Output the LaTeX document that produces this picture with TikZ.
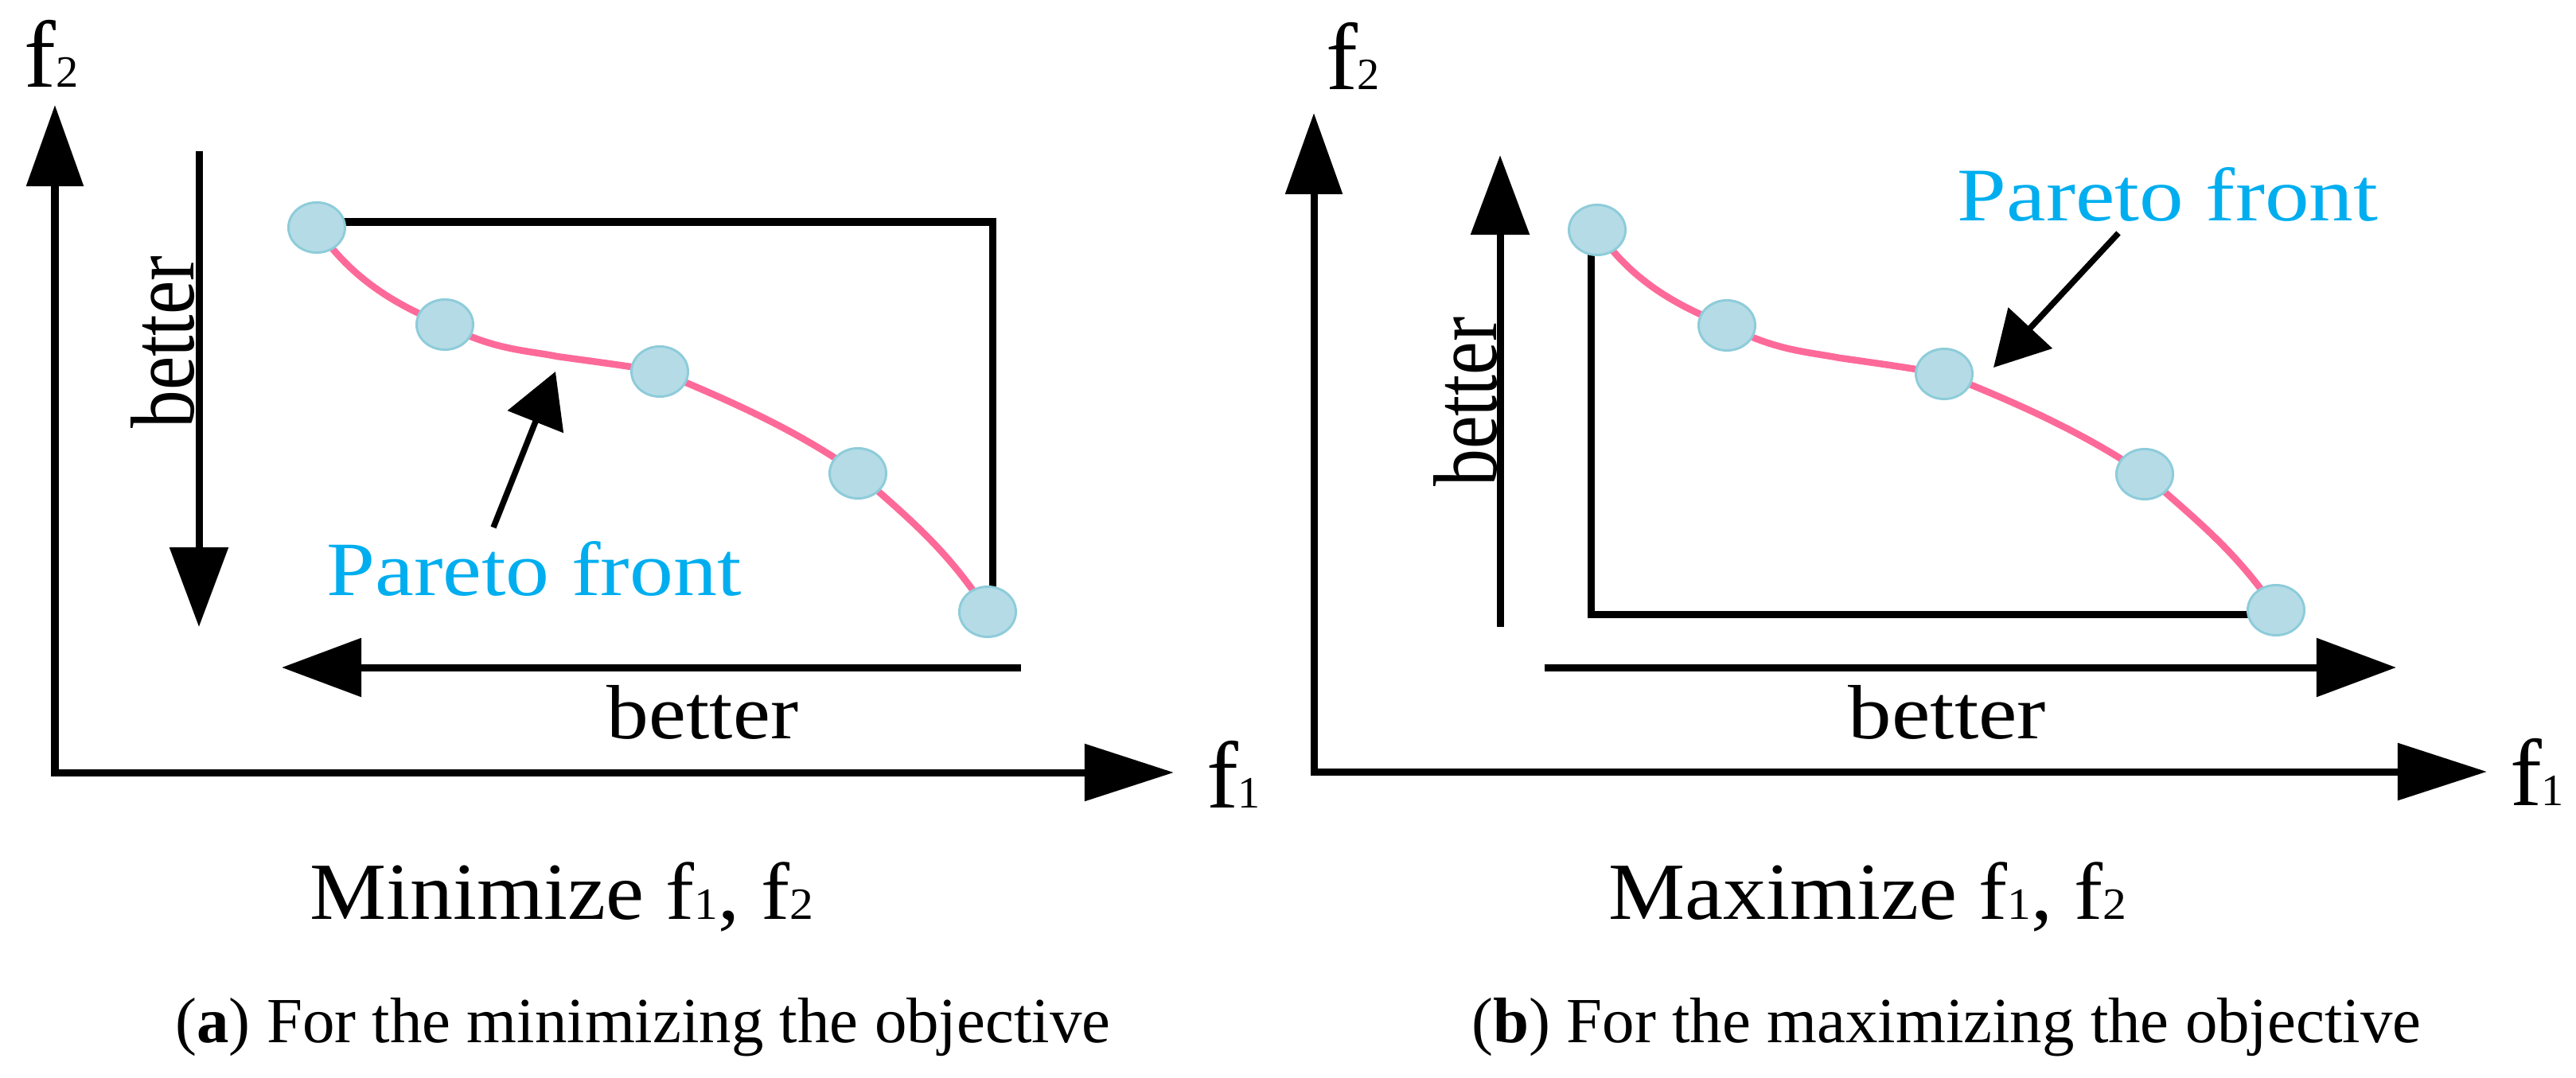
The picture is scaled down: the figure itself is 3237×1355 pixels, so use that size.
\documentclass[tikz,border=0pt]{standalone}
\usepackage{fontspec}
\setmainfont{Liberation Serif}
\usepackage{graphicx}
\usetikzlibrary{arrows.meta,shapes.geometric}
\definecolor{dotfill}{HTML}{B5DCE6}
\definecolor{dotline}{HTML}{8ECCDA}
\definecolor{frontpink}{HTML}{FD6A9A}
\definecolor{paretocyan}{HTML}{00AEEF}
\newcommand\fsb[2]{f{\fontsize{#2}{#2}\selectfont #1}}
\begin{document}
\begin{tikzpicture}[x=0.01cm, y=-0.01cm,
  axisline/.style={line width=0.09cm, {Triangle[length=1.02cm,width=0.70cm]}-{Triangle[length=1.12cm,width=0.70cm]}},
  betterarrow/.style={line width=0.09cm, -{Triangle[length=1.0cm,width=0.72cm]}},
  paretoarrow/.style={line width=0.075cm, -{Triangle[length=0.68cm,width=0.74cm]}},
  boxline/.style={line width=0.09cm},
  front/.style={line width=0.085cm, draw=frontpink},
  dot/.style={ellipse, draw=dotline, fill=dotfill, line width=0.03cm, minimum width=0.71cm, minimum height=0.63cm, inner sep=0},
  txt/.style={inner sep=0, outer sep=0},
]
\useasboundingbox (0,0) rectangle (3237,1355);

% ================= left panel =================
\coordinate (L-ytip) at (69,132);
\coordinate (L-xtip) at (1475,971);
\draw[axisline] (L-ytip) |- (L-xtip);
\node[txt, anchor=base west] (L-f2) at (31,110) {\fontsize{34}{34}\selectfont\fsb{2}{16}};
\node[txt, anchor=base west] (L-f1) at (1516,1015) {\fontsize{34}{34}\selectfont\fsb{1}{16}};

\coordinate (L-vb-s) at (250,190);
\coordinate (L-vb-e) at (250,788);
\draw[betterarrow] (L-vb-s) -- (L-vb-e);
\node[txt, rotate=90] (L-vb-t) at (205,430) {\resizebox{2.17cm}{0.79cm}{better}};

\coordinate (L-hb-s) at (1283,839);
\coordinate (L-hb-e) at (354,839);
\draw[betterarrow] (L-hb-s) -- (L-hb-e);
\node[txt] (L-hb-t) at (883,895) {\resizebox{2.40cm}{0.67cm}{better}};

\coordinate (p1) at (398,286);
\coordinate (p2) at (559,408);
\coordinate (p3) at (829,467);
\coordinate (p4) at (1078,595);
\coordinate (p5) at (1241,769);
\coordinate (L-tr) at (1247,279);
\draw[boxline] (p1 |- L-tr) -- (L-tr) -- (L-tr |- p5);
\draw[front] (p1) .. controls (440,350) and (500,385) .. (p2)
                 .. controls (620,440) and (660,440) .. (700,448)
                 .. controls (750,455) and (790,460) .. (p3)
                 .. controls (920,505) and (1000,540) .. (p4)
                 .. controls (1140,650) and (1190,690) .. (p5);
\foreach \i in {1,...,5} \node[dot] (L-dot\i) at (p\i) {};

\node[txt] (L-pf) at (671,715) {\resizebox{5.21cm}{0.68cm}{\color{paretocyan}Pareto front}};
\coordinate (L-pa-s) at (620,663);
\coordinate (L-pa-e) at (698,467);
\draw[paretoarrow] (L-pa-s) -- (L-pa-e);

\node[txt, anchor=base] (L-title) at (706,1155) {\fontsize{29}{29}\selectfont\scalebox{1.06}[1]{Minimize \fsb{1}{16}, \fsb{2}{16}}};
\node[txt, anchor=base] (L-cap) at (808,1310) {\fontsize{23}{23}\selectfont (\textbf{a}) For the minimizing the objective};

% ================= right panel =================
\coordinate (R-ytip) at (1651,142);
\coordinate (R-xtip) at (3125,970);
\draw[axisline] (R-ytip) |- (R-xtip);
\node[txt, anchor=base west] (R-f2) at (1666,113) {\fontsize{34}{34}\selectfont\fsb{2}{16}};
\node[txt, anchor=base west] (R-f1) at (3154,1012) {\fontsize{34}{34}\selectfont\fsb{1}{16}};

\coordinate (R-vb-s) at (1885,788);
\coordinate (R-vb-e) at (1885,195);
\draw[betterarrow] (R-vb-s) -- (R-vb-e);
\node[txt, rotate=90] (R-vb-t) at (1841,505) {\resizebox{2.13cm}{0.79cm}{better}};

\coordinate (R-hb-s) at (1941,839);
\coordinate (R-hb-e) at (3011,839);
\draw[betterarrow] (R-hb-s) -- (R-hb-e);
\node[txt] (R-hb-t) at (2447,895) {\resizebox{2.48cm}{0.67cm}{better}};

\coordinate (q1) at (2007,289);
\coordinate (q2) at (2170,409);
\coordinate (q3) at (2443,470);
\coordinate (q4) at (2695,596);
\coordinate (q5) at (2860,767);
\coordinate (R-bl) at (1999,772);
\draw[boxline] (R-bl |- q1) -- (R-bl) -- (q5 |- R-bl);
\draw[front] (q1) .. controls (2049,353) and (2110,386) .. (q2)
                 .. controls (2231,441) and (2271,442) .. (2312,450)
                 .. controls (2362,457) and (2403,463) .. (q3)
                 .. controls (2535,507) and (2615,542) .. (q4)
                 .. controls (2756,651) and (2808,690) .. (q5);
\foreach \i in {1,...,5} \node[dot] (R-dot\i) at (q\i) {};

\node[txt] (R-pf) at (2724,244) {\resizebox{5.28cm}{0.67cm}{\color{paretocyan}Pareto front}};
\coordinate (R-pa-s) at (2662,293);
\coordinate (R-pa-e) at (2505,462);
\draw[paretoarrow] (R-pa-s) -- (R-pa-e);

\node[txt, anchor=base] (R-title) at (2347,1155) {\fontsize{29}{29}\selectfont\scalebox{1.06}[1]{Maximize \fsb{1}{16}, \fsb{2}{16}}};
\node[txt, anchor=base] (R-cap) at (2446,1310) {\fontsize{23}{23}\selectfont (\textbf{b}) For the maximizing the objective};
\end{tikzpicture}
\end{document}
